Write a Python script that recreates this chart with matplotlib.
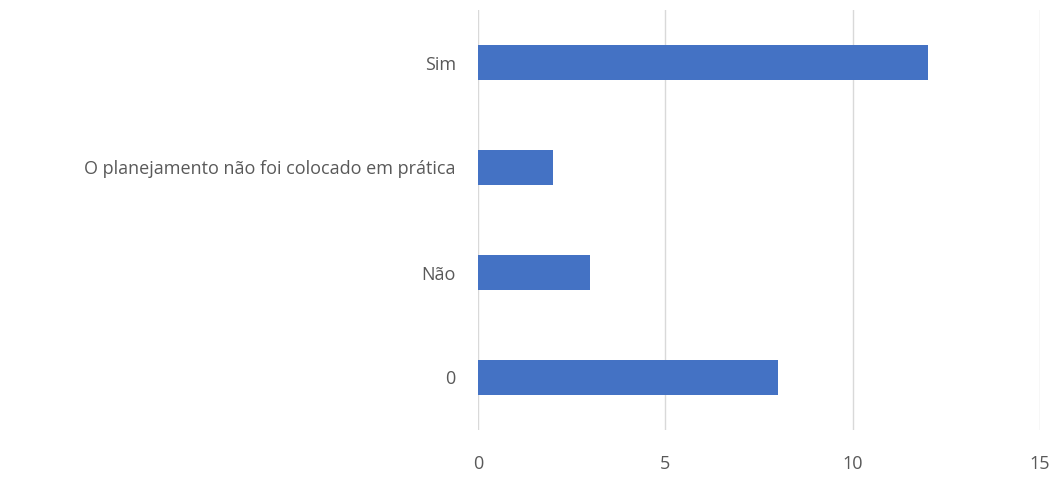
import matplotlib
matplotlib.use("Agg")
import matplotlib.pyplot as plt

categories = ["0", "Não", "O planejamento não foi colocado em prática", "Sim"]
values = [8, 3, 2, 12]
xticks = [0, 5, 10, 15]

plt.rcParams['font.family'] = ['Open Sans', 'DejaVu Sans']
fig = plt.figure(figsize=(10.59, 4.78), dpi=100)
ax = fig.add_axes([478/1059, 1-430/478, (1040-478)/1059, 420/478])
ax.barh(range(len(categories)), values, height=0.34, color="#4472C4", zorder=3)
ax.set_yticks(range(len(categories)))
ax.set_yticklabels(categories)
ax.set_xticks(xticks)
ax.set_xlim(0, 15)
ax.set_ylim(-0.5, len(categories)-0.5)
ax.grid(axis='x', color="#D9D9D9", linewidth=1, zorder=0)
for s in ax.spines.values():
    s.set_visible(False)
ax.tick_params(axis='both', length=0, labelsize=13, labelcolor="#595959")
ax.tick_params(axis='y', pad=16)
ax.tick_params(axis='x', pad=18)
fig.savefig("out.png", dpi=100)
